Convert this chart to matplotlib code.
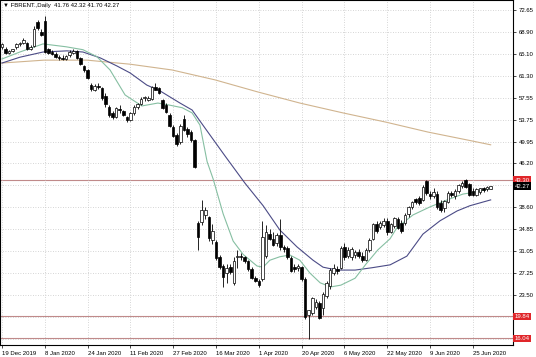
import numpy as np
import matplotlib.pyplot as plt

# daily bars, 19 Dec 2019 .. 2 Jul 2020 (bar index = position on chart)
opens = [66.3, 66.0, 65.3, 65.6, 66.2, 66.7, 66.9, 66.9, 66.0, 66.5,
         70.6, 68.9, 70.7, 65.9, 65.4, 65.1, 64.6, 64.4, 64.2, 64.8,
         65.3, 65.6, 64.4, 63.0, 62.3, 59.7, 58.9, 59.6, 59.2, 57.9,
         56.0, 54.8, 54.2, 55.6, 55.2, 54.2, 53.7, 54.9, 55.9, 56.4,
         57.4, 57.2, 57.3, 59.4, 59.2, 57.1, 56.2, 54.5, 52.5, 51.1,
         49.8, 53.9, 52.2, 51.6, 50.2, 35.9, 36.1, 37.3, 37.0, 32.9,
         32.7, 30.0, 28.5, 27.3, 28.3, 25.5, 30.0, 30.3, 30.0, 29.3,
         28.0, 26.5, 26.0, 26.3, 30.3, 34.0, 33.2, 32.5, 33.8, 31.8,
         31.6, 29.9, 28.4, 28.1, 28.3, 26.3, 20.1, 20.4, 21.4, 22.2,
         21.2, 23.4, 25.0, 27.3, 28.0, 28.2, 31.8, 30.2, 30.0, 30.4,
         31.0, 30.2, 29.6, 31.3, 33.1, 35.8, 35.2, 35.5, 36.3, 34.4,
         35.4, 36.6, 36.0, 35.9, 37.4, 38.6, 40.1, 40.2, 39.9, 43.1,
         41.0, 40.6, 41.0, 39.3, 38.5, 39.6, 41.1, 40.5, 41.4, 42.3,
         43.3, 42.6, 41.5, 40.8, 41.3, 41.9, 41.7, 41.76]
highs = [66.9, 66.2, 65.7, 66.0, 66.9, 67.2, 67.9, 67.1, 66.6, 69.9,
         71.0, 69.3, 71.6, 66.1, 65.7, 65.4, 64.9, 64.8, 64.9, 65.7,
         65.9, 65.8, 64.6, 63.2, 62.5, 60.0, 59.8, 60.1, 59.4, 58.4,
         56.2, 55.3, 56.0, 56.3, 55.4, 54.4, 55.1, 56.2, 56.6, 57.7,
         57.9, 57.8, 59.6, 60.1, 59.4, 57.3, 56.6, 54.9, 52.8, 51.4,
         53.0, 54.5, 52.5, 51.9, 50.4, 36.3, 39.9, 38.6, 37.2, 35.7,
         33.0, 30.4, 28.8, 28.9, 28.8, 30.0, 31.3, 30.8, 30.3, 29.6,
         28.3, 26.8, 26.3, 36.3, 35.5, 34.9, 34.3, 34.2, 36.6, 32.2,
         32.0, 30.2, 28.8, 28.9, 28.5, 26.6, 21.0, 23.2, 22.8, 22.4,
         24.0, 26.0, 28.2, 28.8, 28.5, 31.9, 32.4, 31.7, 31.8, 31.3,
         31.5, 30.9, 31.6, 33.3, 36.0, 36.2, 36.3, 36.8, 36.8, 35.9,
         37.0, 36.9, 36.5, 37.7, 38.8, 39.7, 40.3, 40.5, 42.5, 43.4,
         41.5, 42.0, 41.4, 39.8, 39.9, 41.4, 41.5, 41.7, 42.6, 43.2,
         43.5, 42.9, 41.9, 41.9, 42.0, 42.2, 42.3, 42.32]
lows = [66.0, 65.1, 65.0, 65.4, 66.0, 66.4, 66.7, 65.8, 65.7, 66.2,
        69.2, 68.2, 65.2, 65.1, 64.9, 64.4, 64.1, 64.0, 64.0, 64.6,
        65.0, 64.2, 63.1, 62.0, 60.8, 58.6, 58.6, 59.0, 57.1, 56.0,
        54.2, 53.8, 54.0, 54.9, 54.3, 53.3, 53.5, 54.6, 55.5, 56.2,
        57.0, 56.9, 57.1, 58.8, 58.1, 55.6, 54.9, 52.4, 50.8, 49.2,
        49.5, 51.8, 50.8, 49.9, 45.4, 31.3, 35.5, 36.6, 32.8, 32.3,
        29.5, 28.0, 24.9, 25.5, 27.1, 25.2, 28.2, 29.6, 29.1, 27.6,
        26.3, 25.8, 24.9, 25.9, 29.9, 32.9, 31.9, 32.0, 31.3, 31.0,
        29.7, 27.4, 27.4, 27.6, 26.0, 19.4, 16.0, 20.0, 21.1, 19.3,
        20.0, 23.0, 24.6, 26.9, 27.2, 27.9, 29.6, 29.8, 29.6, 29.8,
        29.9, 29.2, 29.3, 31.0, 32.9, 34.2, 34.9, 35.2, 33.8, 34.2,
        35.1, 34.9, 34.2, 35.5, 37.0, 38.3, 39.2, 39.0, 39.7, 40.8,
        40.0, 40.2, 38.3, 37.9, 37.8, 39.3, 40.4, 40.1, 41.1, 42.0,
        42.0, 40.5, 40.6, 40.5, 40.9, 41.2, 41.4, 41.70]
closes = [66.7, 65.3, 65.5, 65.9, 66.7, 66.9, 67.5, 66.0, 66.3, 69.3,
          69.5, 68.4, 65.4, 65.3, 65.1, 64.6, 64.4, 64.2, 64.7, 65.4,
          65.6, 64.4, 63.3, 62.3, 61.0, 59.0, 59.6, 59.3, 57.4, 56.4,
          54.6, 54.2, 55.8, 55.4, 54.5, 53.6, 54.9, 55.9, 56.4, 57.3,
          57.6, 57.5, 59.3, 58.9, 58.3, 55.7, 55.1, 52.6, 51.0, 49.5,
          52.7, 52.0, 51.3, 50.2, 45.6, 33.5, 38.2, 38.1, 33.4, 34.6,
          29.8, 28.3, 26.6, 28.2, 27.5, 29.4, 30.3, 30.0, 29.3, 27.9,
          26.5, 26.0, 25.2, 33.5, 34.3, 33.2, 32.2, 33.8, 31.8, 31.5,
          30.0, 27.6, 28.0, 28.5, 26.3, 19.7, 20.9, 22.9, 22.3, 19.6,
          23.6, 25.5, 27.8, 28.2, 27.6, 31.6, 30.0, 31.3, 31.4, 31.0,
          30.2, 29.6, 31.3, 33.0, 35.7, 34.6, 35.9, 36.3, 34.4, 35.7,
          36.7, 35.1, 34.5, 37.3, 38.6, 39.5, 39.6, 39.4, 42.1, 41.1,
          40.5, 41.2, 38.6, 38.2, 39.7, 41.1, 40.8, 41.5, 42.4, 42.9,
          42.2, 40.8, 40.8, 41.7, 41.9, 41.6, 42.1, 42.27]

# moving averages (bar index, price)
ma_fast_idx = [0, 5, 11.5, 18, 22.7, 26.6, 30.3, 34.5, 39.2, 43.7, 46.5, 50.5,
               53.3, 55.5, 57.5, 59.2, 62, 64.8, 67.6, 71.5, 73.2, 75.1, 77.9,
               80.7, 83.5, 86.3, 89.2, 92.2, 95, 99, 102, 105.4, 108.8, 110.7,
               115.2, 120, 124.8, 129.2, 133.2, 137]
ma_fast_val = [64.2, 65.4, 66.8, 66.3, 65.8, 64.6, 62.3, 58.0, 56.1, 56.6, 56.3, 55.8,
               54.9, 52.8, 46.5, 43.5, 37.5, 32.8, 30.5, 28.5, 28.3, 29.5, 30.1,
               30.4, 29.5, 27.3, 25.6, 24.9, 25.2, 26.4, 28.8, 31.3, 33.2, 35.1,
               37.3, 38.7, 39.9, 40.9, 41.3, 41.9]
ma_slow_idx = [0, 5, 11.5, 18.2, 22.7, 27.5, 32.2, 35.9, 40.6, 44.3, 49.9, 53.3,
               56.9, 62.5, 68.1, 73.2, 77.9, 82.7, 87.2, 90, 93.9, 99, 103.7,
               108.8, 113.5, 118, 122.8, 127.6, 131.2, 137]
ma_slow_val = [63.5, 64.5, 65.4, 65.6, 65.4, 64.4, 63.0, 61.8, 59.7, 58.7, 56.6, 55.4,
               52.3, 47.5, 42.8, 38.9, 34.7, 31.8, 29.5, 28.3, 27.8, 27.8, 28.2,
               28.7, 30.2, 34.0, 36.3, 38.0, 38.9, 39.9]
ma_long_idx = [0, 11.8, 23.8, 35.9, 47.7, 59.7, 71.8, 83.5, 95.6, 107.7, 119.4, 131.5, 137]
ma_long_val = [63.5, 64.0, 64.0, 63.3, 62.3, 60.6, 58.5, 56.6, 54.9, 53.3, 51.6, 50.1, 49.4]

levels = [43.30, 19.84, 16.04]
last_price = 42.27

date_pos = [0, 12, 24, 36, 48, 60, 72, 84, 96, 108, 120, 132]
date_labels = ["19 Dec 2019", "8 Jan 2020", "24 Jan 2020", "11 Feb 2020", "27 Feb 2020",
               "16 Mar 2020", "1 Apr 2020", "20 Apr 2020", "6 May 2020", "22 May 2020",
               "9 Jun 2020", "25 Jun 2020"]
price_ticks = [72.65, 68.90, 65.10, 61.30, 57.55, 53.75, 49.95, 46.20, 42.40,
               38.60, 34.85, 31.05, 27.25, 23.50, 19.70, 15.95]
hidden_ticks = [42.40, 19.70, 15.95]

plt.rcParams['font.family'] = ['Liberation Sans', 'DejaVu Sans']
fs = 4.3

fig = plt.figure(figsize=(5.36, 3.57), dpi=100)
ax = fig.add_axes([0, 12 / 357, 513 / 536, 345 / 357])

x = np.arange(len(closes))
o = np.array(opens)
c = np.array(closes)
up = c >= o

# wicks and bodies
ax.vlines(x, lows, highs, color='black', lw=0.6, zorder=3)
body_lo = np.minimum(o, c)
body_h = np.maximum(np.abs(c - o), 0.08)
ax.bar(x, body_h, bottom=body_lo, width=0.72,
       color=np.where(up, 'white', 'black'), edgecolor='black', lw=0.5, zorder=4)

ax.plot(ma_long_idx, ma_long_val, color='#d0b48f', lw=0.8, zorder=2)
ax.plot(ma_slow_idx, ma_slow_val, color='#4b4b86', lw=0.8, zorder=2)
ax.plot(ma_fast_idx, ma_fast_val, color='#86bfa2', lw=0.8, zorder=2)

for lv in levels:
    ax.axhline(lv, color='#c08a8a', lw=0.8, zorder=1)
    ax.text(1.003, lv, f"{lv:.2f}", transform=ax.get_yaxis_transform(),
            ha='left', va='center', fontsize=fs, color='white', clip_on=False,
            bbox=dict(boxstyle='square,pad=0.2', fc='#e0262a', ec='none'))
ax.text(1.003, last_price, f"{last_price:.2f}", transform=ax.get_yaxis_transform(),
        ha='left', va='center', fontsize=fs, color='white', clip_on=False,
        bbox=dict(boxstyle='square,pad=0.2', fc='black', ec='none'))

ax.set_xlim(-0.56, 143.26)
ax.set_ylim(14.88, 74.37)

ax.yaxis.tick_right()
ax.set_yticks(price_ticks)
ax.set_yticklabels(["" if t in hidden_ticks else f"{t:.2f}" for t in price_ticks], fontsize=fs)
ax.set_xticks(date_pos)
ax.set_xticklabels(date_labels, fontsize=fs, ha='left')
ax.tick_params(axis='both', length=2.5, width=0.5, pad=1.5)
ax.grid(True, ls=(0, (1, 2)), color='#c8c8c8', lw=0.6, zorder=0)
for sp in ax.spines.values():
    sp.set_linewidth(0.8)
    sp.set_color('black')

fig.text(3 / 536, 1 - 6 / 357, "\u25bc FBRENT.,Daily  41.76 42.32 41.70 42.27",
         fontsize=fs, va='center', ha='left')

fig.savefig("out.png", dpi=100)
